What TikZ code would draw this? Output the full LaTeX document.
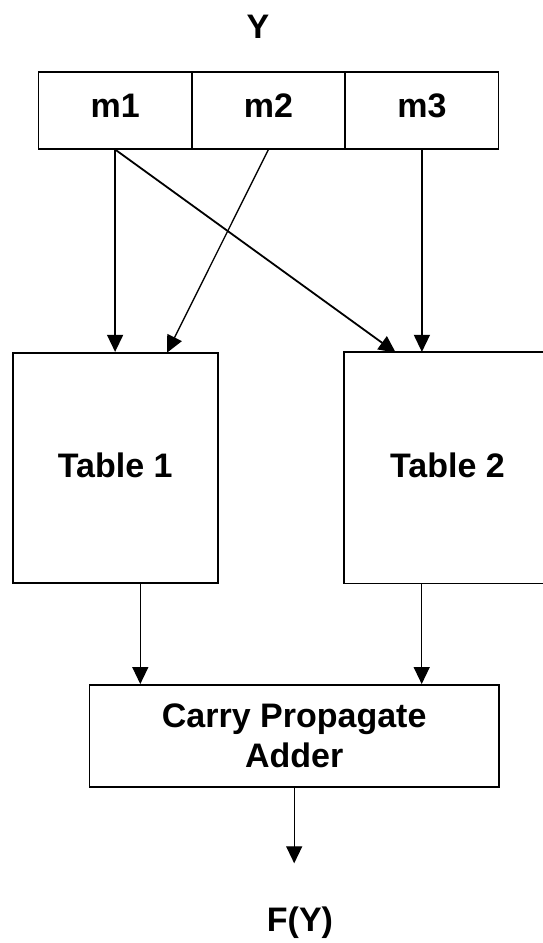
\documentclass[tikz,border=0pt]{standalone}
\usepackage{fontspec}
\setmainfont{Liberation Sans}
\usetikzlibrary{arrows.meta}

\begin{document}
\begin{tikzpicture}[x=1pt,y=-1pt,
  font=\fontsize{34}{40}\selectfont\bfseries,
  cell/.style={draw, line width=1.6pt, minimum width=153.5pt, minimum height=77pt,
    inner sep=0pt, text height=24pt, text depth=10pt},
  tablebox/.style={line width=1.6pt, minimum height=230pt, inner sep=0pt},
  adderbox/.style={draw, line width=1.6pt, minimum width=409.7pt, minimum height=102.3pt,
    inner sep=0pt, align=center},
  lbl/.style={inner sep=0pt},
  arr/.style={line width=1.3pt, -{Triangle[length=17pt, width=16pt]}},
]
\useasboundingbox (0,0) rectangle (542,943);

% input word Y split into three fields
\node[lbl] (y) at (258,27) {Y};
\node[cell] (m1) at (115.1,110.2) {m1};
\node[cell] (m2) at (268.4,110.2) {m2};
\node[cell] (m3) at (421.9,110.2) {m3};

% lookup tables (the second one runs past the right margin)
\node[tablebox, draw, minimum width=205pt] (t1) at (115.3,467.7) {};
\node[tablebox, minimum width=305pt] (t2) at (497.5,467.7) {};
\draw[line width=1.6pt] (t2.north east) -- (t2.north west) -- (t2.south west) -- (t2.south east);
\node[lbl] (t1l) at (115.3,465) {Table 1};
\node[lbl] (t2l) at (447.5,465) {Table 2};

% final adder and result
\node[adderbox] (cpa) at (294.2,736) {Carry Propagate\\Adder};
\node[lbl] (fy) at (300,923) {F(Y)};

% input points on the table tops
\coordinate (t1b) at (167,352.7);
\coordinate (t2a) at (395.8,352.7);
\coordinate (out) at (294.2,863.3);

% field-to-table connections
\draw[arr] (m1.south) -- (m1.south |- t1.north);
\draw[arr] (m2.south) -- (t1b);
\draw[arr, line width=1.8pt] (m1.south) -- (t2a);
\draw[arr] (m3.south) -- (m3.south |- t2.north);

% tables into the adder
\draw[arr] (t1.south -| 140.3,0) -- (cpa.north -| 140.3,0);
\draw[arr] (t2.south -| 421.7,0) -- (cpa.north -| 421.7,0);

% adder output
\draw[arr] (cpa.south) -- (out);
\end{tikzpicture}
\end{document}
